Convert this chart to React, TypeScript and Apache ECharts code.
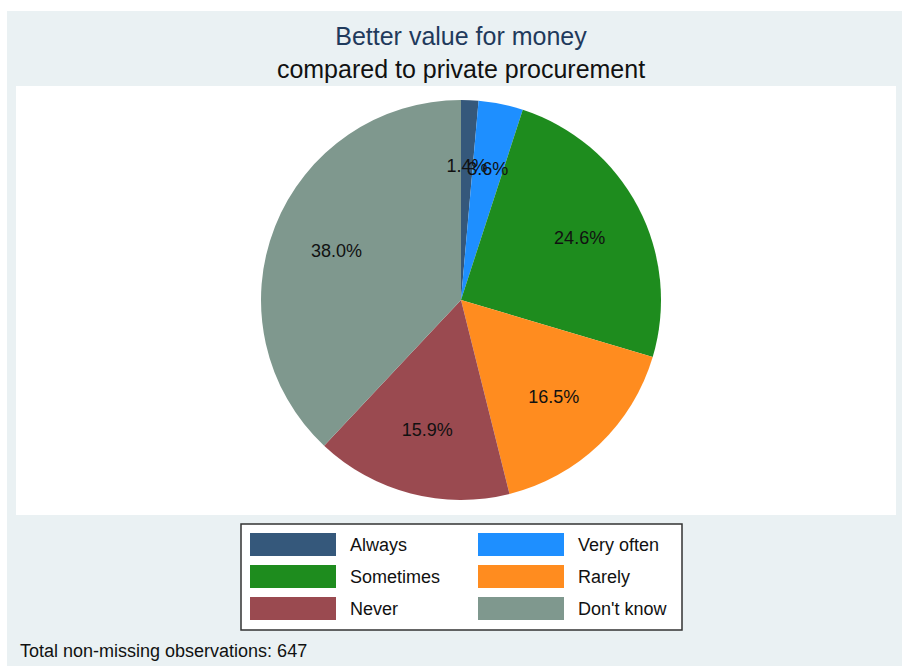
import React, { useEffect, useRef } from "react";
import * as echarts from "echarts";

const categories = ["Always", "Very often", "Sometimes", "Rarely", "Never", "Don't know"];
const percents = [1.4, 3.6, 24.6, 16.5, 15.9, 38.0];
const colors = ["#35587B", "#1E8FFF", "#1E8C1E", "#FF8C1F", "#9A4A50", "#7F988E"];
const legendLeftColumn = ["Always", "Sometimes", "Never"];
const legendRightColumn = ["Very often", "Rarely", "Don't know"];
const titleText = "Better value for money";
const subtitleText = "compared to private procurement";
const noteText = "Total non-missing observations: 647";

const FONT = "Arial, 'Liberation Sans', Helvetica, sans-serif";

export default function App() {
  const ref = useRef<HTMLDivElement>(null);
  useEffect(() => {
    if (!ref.current) return;
    const chart = echarts.init(ref.current, undefined, { renderer: "svg" });
    const data = categories.map((name, i) => ({
      name,
      value: percents[i],
      itemStyle: { color: colors[i] },
    }));
    const labelData = categories.map((name, i) => ({ name, value: percents[i] }));
    const legendItems = (names: string[]) =>
      names.map((n) => ({ name: n, itemStyle: { color: colors[categories.indexOf(n)] } }));
    const legendCommon = {
      orient: "vertical" as const,
      top: 533,
      padding: 0,
      itemWidth: 86,
      itemHeight: 23,
      itemGap: 9,
      icon: "rect",
      selectedMode: false,
      textStyle: { fontFamily: FONT, fontSize: 18, color: "#111", padding: [0, 0, 0, 9] },
    };
    chart.setOption({
      animation: false,
      backgroundColor: "#ffffff",
      textStyle: { fontFamily: FONT },
      graphic: [
        { type: "rect", z: -10, silent: true, shape: { x: 7, y: 11, width: 895, height: 655 }, style: { fill: "#EAF1F3" } },
        { type: "rect", z: -9, silent: true, shape: { x: 16, y: 86, width: 880, height: 429 }, style: { fill: "#ffffff" } },
        { type: "rect", z: -8, silent: true, shape: { x: 241, y: 524, width: 441, height: 106 }, style: { fill: "#ffffff", stroke: "#333", lineWidth: 1.5 } },
        { type: "text", x: 461, y: 36, style: { text: titleText, fontFamily: FONT, fontSize: 25, fill: "#1F3A5C", textAlign: "center", textVerticalAlign: "middle" } },
        { type: "text", x: 461, y: 69, style: { text: subtitleText, fontFamily: FONT, fontSize: 25, fill: "#111", textAlign: "center", textVerticalAlign: "middle" } },
        { type: "text", x: 20, y: 651, style: { text: noteText, fontFamily: FONT, fontSize: 18, fill: "#111", textAlign: "left", textVerticalAlign: "middle" } },
      ],
      legend: [
        { ...legendCommon, left: 250, data: legendItems(legendLeftColumn) },
        { ...legendCommon, left: 478, data: legendItems(legendRightColumn) },
      ],
      series: [
        {
          type: "pie",
          center: [461, 300],
          radius: [0, 200],
          startAngle: 90,
          clockwise: true,
          avoidLabelOverlap: false,
          silent: true,
          label: { show: false },
          labelLine: { show: false },
          itemStyle: { borderWidth: 0 },
          data,
        },
        {
          type: "pie",
          center: [461, 300],
          radius: [62, 200],
          startAngle: 90,
          clockwise: true,
          avoidLabelOverlap: false,
          minShowLabelAngle: 0,
          silent: true,
          legendHoverLink: false,
          itemStyle: { color: "rgba(0,0,0,0)", borderWidth: 0 },
          labelLayout: { hideOverlap: false },
          label: {
            show: true,
            position: "inside",
            overflow: "none",
            formatter: (p: any) => `${p.value.toFixed(1)}%`,
            fontFamily: FONT,
            fontSize: 18,
            color: "#111",
          },
          labelLine: { show: false },
          data: labelData,
        },
      ],
    });
    return () => chart.dispose();
  }, []);
  return (
    <div
      ref={ref}
      style={{ position: "absolute", left: 0, top: 0, width: 902, height: 666 }}
    />
  );
}
